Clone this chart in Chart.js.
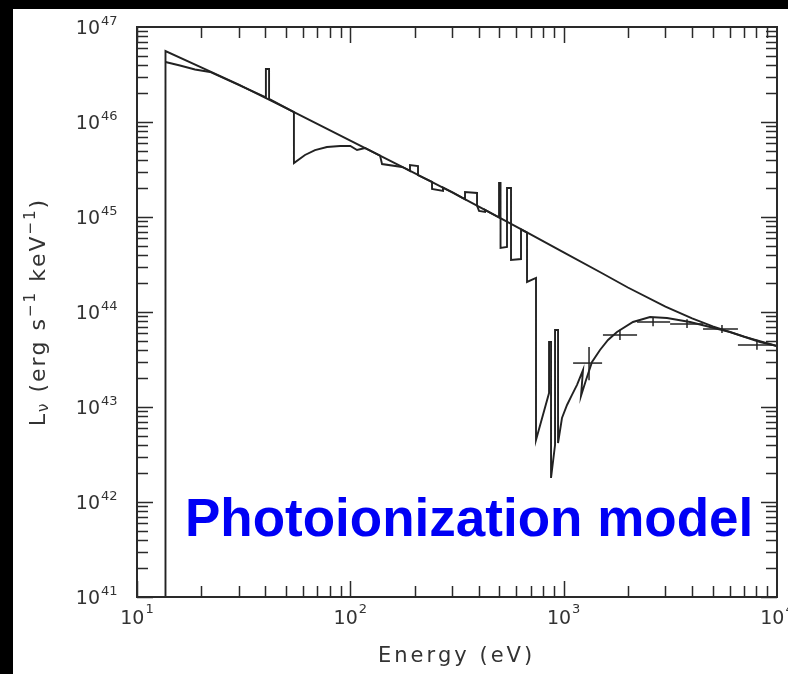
<!DOCTYPE html>
<html>
<head>
<meta charset="utf-8">
<script src="https://cdn.jsdelivr.net/npm/chart.js@4.4.1/dist/chart.umd.min.js"></script>
<style>
  html, body { margin: 0; padding: 0; background: #000; }
  #wrap { position: absolute; left: 13px; top: 9px; width: 775px; height: 665px; background: #fff; }
</style>
</head>
<body>
<div id="wrap"><canvas id="spectrum" width="775" height="665"></canvas></div>
<script>
// incident continuum, energy in eV, L_nu in erg/s/keV
const contE = [13.6, 13.6, 20, 30, 50, 100, 200, 300, 500, 700, 1000, 1500, 2000, 3000, 4000, 5000, 7000, 10000];
const contL = [1e41, 5.58e46, 3.75e46, 2.47e46, 1.40e46, 6.37e45, 2.90e45, 1.82e45, 9.84e44, 6.55e44,
               4.24e44, 2.59e44, 1.81e44, 1.14e44, 8.55e43, 7.06e43, 5.50e43, 4.39e43];

// transmitted (absorbed) model spectrum
const absE = [13.6, 15.9, 18.7, 22.0, 40.2, 40.2, 41.6, 41.6, 54.4, 54.4,
              61.3, 68.3, 77.7, 89.5, 100, 107.5, 117.2, 137.8, 140.8, 174.7,
              180.4, 190.4, 190.4, 207.6, 207.6, 241.5, 241.5, 271.9, 271.9, 302.9,
              333.9, 344.8, 344.8, 392.5, 392.5, 401.1, 427.9, 427.9, 497.8, 497.8,
              505.9, 505.9, 542.5, 542.5, 566.5, 566.5, 631, 631, 673.3, 673.3,
              741.9, 741.9, 853.9, 853.9, 872.5, 872.5, 911, 911, 941, 941,
              982, 1037, 1094, 1155, 1232, 1206, 1273, 1358, 1480, 1614,
              1778, 2113, 2540, 3050, 3910, 4853, 6022, 8325, 10000];
const absL = [4.28e46, 3.93e46, 3.57e46, 3.36e46, 1.82e46, 3.61e46, 3.61e46, 1.75e46, 1.27e46, 3.70e45,
              4.50e45, 5.07e45, 5.46e45, 5.59e45, 5.59e45, 5.07e45, 5.33e45, 4.43e45, 3.61e45, 3.36e45,
              3.26e45, 3.06e45, 3.53e45, 3.44e45, 2.75e45, 2.34e45, 1.97e45, 1.88e45, 2.04e45, 1.81e45,
              1.60e45, 1.54e45, 1.83e45, 1.79e45, 1.32e45, 1.16e45, 1.13e45, 1.19e45, 9.88e44, 2.28e45,
              2.28e45, 4.72e44, 4.83e44, 2.02e45, 2.02e45, 3.53e44, 3.61e44, 7.42e44, 6.85e44, 2.07e44,
              2.28e44, 4.50e42, 1.40e43, 4.83e43, 4.83e43, 1.79e42, 3.98e42, 6.46e43, 6.46e43, 4.18e42,
              7.66e42, 1.05e43, 1.34e43, 1.71e43, 2.45e43, 1.31e43, 1.92e43, 2.98e43, 3.98e43, 5.07e43,
              6.16e43, 7.85e43, 8.86e43, 8.65e43, 7.85e43, 6.95e43, 6.16e43, 4.83e43, 4.39e43];

// observed points with error bars
const ptE   = [1315, 1836, 2624, 3786, 5522, 8054];
const ptELo = [1107, 1528, 2208, 3155, 4500, 6560];
const ptEHi = [1514, 2208, 3155, 4500, 6560, 9680];
const ptL   = [2.90e43, 5.73e43, 7.85e43, 7.48e43, 6.62e43, 4.50e43];
const ptLLo = [1.91e43, 5.07e43, 7.10e43, 6.80e43, 6.00e43, 4.00e43];
const ptLHi = [4.27e43, 6.50e43, 8.86e43, 8.40e43, 7.30e43, 5.10e43];

const xTicks = [10, 100, 1000, 10000];
const xTickExp = ['1', '2', '3', '4'];
const yTicks = [1e41, 1e42, 1e43, 1e44, 1e45, 1e46, 1e47];
const yTickExp = ['41', '42', '43', '44', '45', '46', '47'];

const xTitle = 'Energy (eV)';
const note = 'Photoionization model';

const ink = '#222';
const lineStyle = { borderColor: ink, borderWidth: 1.9, pointRadius: 0, showLine: true, fill: false, tension: 0 };

const toXY = (xs, ys) => xs.map((v, i) => ({ x: v, y: ys[i] }));

const datasets = [
  { label: 'Continuum', data: toXY(contE, contL), ...lineStyle },
  { label: 'Model', data: toXY(absE, absL), ...lineStyle }
];
ptE.forEach((e, i) => {
  datasets.push({ label: 'xerr' + i, data: [{ x: ptELo[i], y: ptL[i] }, { x: ptEHi[i], y: ptL[i] }], ...lineStyle, borderWidth: 1.5 });
  datasets.push({ label: 'yerr' + i, data: [{ x: e, y: ptLLo[i] }, { x: e, y: ptLHi[i] }], ...lineStyle, borderWidth: 1.5 });
});

// text drawn char by char so the wide, spaced look of the plot font can be matched
function spacedWidth(ctx, str, sp) {
  let w = 0;
  for (const ch of str) w += ctx.measureText(ch).width + sp;
  return w - sp;
}
function spacedText(ctx, str, x, y, sp) {
  for (const ch of str) {
    ctx.fillText(ch, x, y);
    x += ctx.measureText(ch).width + sp;
  }
  return x;
}

const decor = {
  id: 'decor',
  afterDatasetsDraw(chart) {
    const { ctx, chartArea: a, scales: { x, y } } = chart;
    ctx.save();
    ctx.strokeStyle = '#2a2a2a';
    ctx.lineWidth = 2;
    ctx.strokeRect(a.left, a.top, a.right - a.left, a.bottom - a.top);

    // inward ticks on all four sides
    ctx.lineWidth = 1.5;
    ctx.beginPath();
    for (let d = 10; d < 10000; d *= 10) {
      for (let m = 1; m < 10; m++) {
        const px = Math.round(x.getPixelForValue(d * m)) + 0.5;
        const len = m === 1 ? 16 : 11;
        ctx.moveTo(px, a.bottom); ctx.lineTo(px, a.bottom - len);
        ctx.moveTo(px, a.top); ctx.lineTo(px, a.top + len);
      }
    }
    for (let d = 1e41; d < 1e47; d *= 10) {
      for (let m = 1; m < 10; m++) {
        const py = Math.round(y.getPixelForValue(d * m)) + 0.5;
        const len = m === 1 ? 16 : 11;
        ctx.moveTo(a.left, py); ctx.lineTo(a.left + len, py);
        ctx.moveTo(a.right, py); ctx.lineTo(a.right - len, py);
      }
    }
    ctx.stroke();

    // tick labels
    ctx.fillStyle = '#333';
    ctx.textBaseline = 'middle';
    const baseFont = '19px "DejaVu Sans"';
    const expFont = '13px "DejaVu Sans"';
    xTicks.forEach((v, i) => {
      const px = x.getPixelForValue(v);
      ctx.font = baseFont;
      const wb = ctx.measureText('10').width;
      ctx.font = expFont;
      const we = ctx.measureText(xTickExp[i]).width;
      const left = px - (wb + we + 1) / 2;
      ctx.font = baseFont; ctx.textAlign = 'left';
      ctx.fillText('10', left, a.bottom + 22);
      ctx.font = expFont;
      ctx.fillText(xTickExp[i], left + wb + 1, a.bottom + 13);
    });
    yTicks.forEach((v, i) => {
      const py = y.getPixelForValue(v);
      ctx.font = baseFont; ctx.textAlign = 'right';
      ctx.fillText('10', a.left - 37, py + 2.5);
      ctx.font = expFont; ctx.textAlign = 'left';
      ctx.fillText(yTickExp[i], a.left - 36, py - 5);
    });

    // x title
    ctx.font = '21px "DejaVu Sans"';
    ctx.textAlign = 'left';
    const tw = spacedWidth(ctx, xTitle, 3);
    spacedText(ctx, xTitle, (a.left + a.right) / 2 - 2 - tw / 2, a.bottom + 60, 3);

    // y title, rotated
    const parts = [
      { t: 'L', f: '22px "DejaVu Sans"', dy: 0 },
      { t: 'ν', f: '15px "DejaVu Sans"', dy: 5 },
      { t: ' (erg s', f: '22px "DejaVu Sans"', dy: 0 },
      { t: '−1', f: '15px "DejaVu Sans"', dy: -8 },
      { t: ' keV', f: '22px "DejaVu Sans"', dy: 0 },
      { t: '−1', f: '15px "DejaVu Sans"', dy: -8 },
      { t: ')', f: '22px "DejaVu Sans"', dy: 0 }
    ];
    const sp = 2;
    let total = 0;
    parts.forEach(p => { ctx.font = p.f; total += spacedWidth(ctx, p.t, sp) + sp; });
    ctx.translate(26, (a.top + a.bottom) / 2);
    ctx.rotate(-Math.PI / 2);
    let cx = -total / 2;
    parts.forEach(p => {
      ctx.font = p.f;
      cx = spacedText(ctx, p.t, cx, p.dy, sp);
    });
    ctx.restore();

    // overlay label
    ctx.save();
    ctx.fillStyle = '#0000f5';
    ctx.font = 'bold 53px "Liberation Sans"';
    ctx.textAlign = 'left';
    ctx.textBaseline = 'alphabetic';
    ctx.fillText(note, a.left + 48, a.bottom - 61);
    ctx.restore();
  }
};

new Chart(document.getElementById('spectrum'), {
  type: 'scatter',
  data: { datasets: datasets },
  options: {
    responsive: false,
    animation: false,
    devicePixelRatio: 1,
    layout: { padding: { left: 124, top: 18, right: 11, bottom: 77 } },
    plugins: { legend: { display: false }, tooltip: { enabled: false } },
    scales: {
      x: { type: 'logarithmic', min: 10, max: 10000, display: false },
      y: { type: 'logarithmic', min: 1e41, max: 1e47, display: false }
    }
  },
  plugins: [decor]
});
</script>
</body>
</html>
